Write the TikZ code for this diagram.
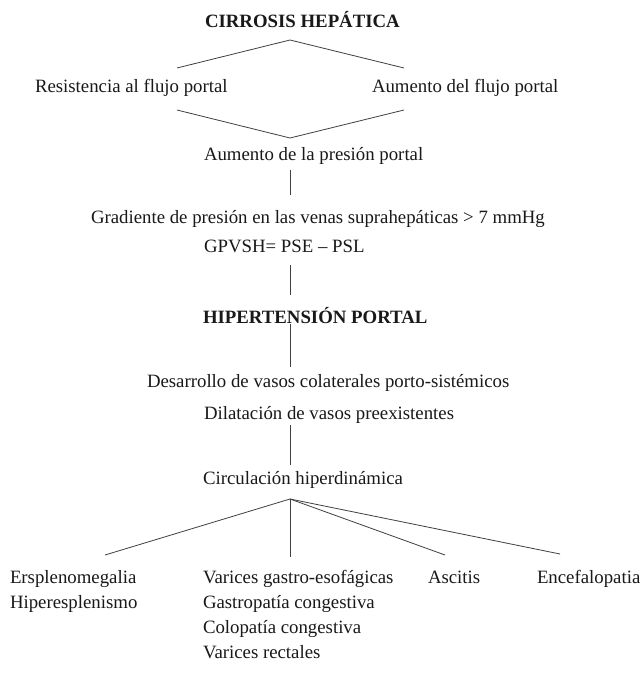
\documentclass[tikz,border=0pt]{standalone}
\usepackage{fontspec}
\setmainfont{Liberation Serif}
\begin{document}
\begin{tikzpicture}[x=1pt,y=-1pt,
  txt/.style={anchor=base west,inner sep=0pt,outer sep=0pt,font=\fontsize{18.8}{22}\selectfont,text=black!90},
  btxt/.style={txt,font=\fontsize{18.8}{22}\selectfont\bfseries},
  conn/.style={draw=black!75,line width=0.8pt}]
\useasboundingbox[fill=white] (0,0) rectangle (643,684);
% texts
\node[btxt] (cirrosis) at (205,28) {CIRROSIS HEPÁTICA};
\node[txt] (resist) at (35,93) {Resistencia al flujo portal};
\node[txt] (aumflujo) at (372,93) {Aumento del flujo portal};
\node[txt] (aumpres) at (204,161) {Aumento de la presión portal};
\node[txt] (grad) at (91,224) {Gradiente de presión en las venas suprahepáticas > 7 mmHg};
\node[txt] (gpvsh) at (204,252) {GPVSH= PSE – PSL};
\node[btxt] (hta) at (203,323) {HIPERTENSIÓN PORTAL};
\node[txt] (desarr) at (147,387) {Desarrollo de vasos colaterales porto-sistémicos};
\node[txt] (dilat) at (204,419) {Dilatación de vasos preexistentes};
\node[txt] (circ) at (203,484) {Circulación hiperdinámica};
\node[txt] (ersp) at (10,583) {Ersplenomegalia};
\node[txt] (hipe) at (10,608) {Hiperesplenismo};
\node[txt] (varg) at (203,583) {Varices gastro-esofágicas};
\node[txt] (gast) at (203,608) {Gastropatía congestiva};
\node[txt] (colo) at (203,633) {Colopatía congestiva};
\node[txt] (varr) at (203,658) {Varices rectales};
\node[txt] (asci) at (428,583) {Ascitis};
\node[txt] (ence) at (537,583) {Encefalopatia};
% connector points
\coordinate (t0) at (290,40);
\coordinate (tl) at (177,68);
\coordinate (tr) at (404,68);
\coordinate (bl) at (177,110);
\coordinate (br) at (404,110);
\coordinate (b0) at (290,138);
\coordinate (v1a) at (290,170);
\coordinate (v1b) at (290,195);
\coordinate (v2a) at (290,265);
\coordinate (v2b) at (290,295);
\coordinate (v3a) at (290,324);
\coordinate (v3b) at (290,367);
\coordinate (v4a) at (290,425);
\coordinate (v4b) at (290,465);
\coordinate (f0) at (290,499);
\coordinate (f1) at (105,555);
\coordinate (f2) at (290,557);
\coordinate (f3) at (445,555);
\coordinate (f4) at (560,554);
% connectors
\draw[conn] (tl) -- (t0) -- (tr);
\draw[conn] (bl) -- (b0) -- (br);
\draw[conn] (v1a) -- (v1b);
\draw[conn] (v2a) -- (v2b);
\draw[conn] (v3a) -- (v3b);
\draw[conn] (v4a) -- (v4b);
\draw[conn] (f0) -- (f1);
\draw[conn] (f0) -- (f2);
\draw[conn] (f0) -- (f3);
\draw[conn] (f0) -- (f4);
\end{tikzpicture}
\end{document}
